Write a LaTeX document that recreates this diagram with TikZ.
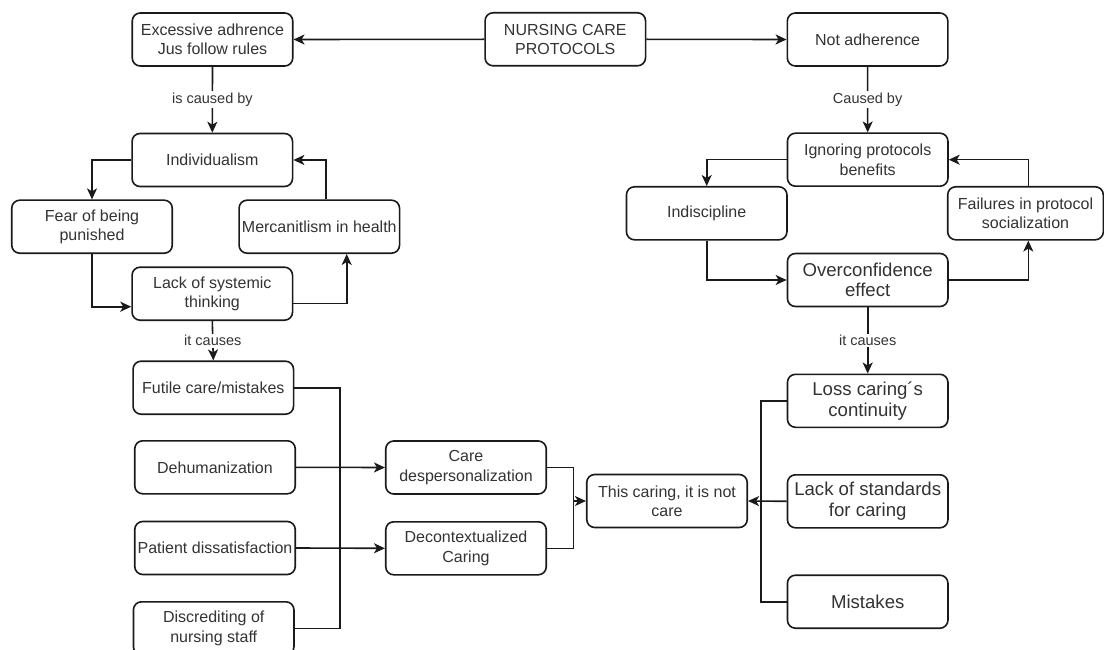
\documentclass[tikz,border=0pt]{standalone}
\usepackage{fontspec}
\setmainfont{Liberation Sans}
\usetikzlibrary{arrows.meta,calc}
\definecolor{linec}{HTML}{1a1a1a}
\definecolor{textc}{HTML}{333333}
\tikzset{
  box/.style={draw=linec, line width=1.6pt, rounded corners=8pt, fill=white, align=center,
    inner sep=1pt, text=textc, minimum width=160.5pt, minimum height=53pt,
    font=\fontsize{16}{19.2}\selectfont},
  bigtxt/.style={font=\fontsize{18.6}{20.6}\selectfont},
  conn/.style={draw=linec, line width=1.6pt},
  arr/.style={conn, -{Stealth[length=11pt,width=10pt,inset=3pt]}},
  elabel/.style={fill=white, text=textc, inner sep=1.5pt, font=\fontsize{14.5}{16}\selectfont}
}
\begin{document}
\begin{tikzpicture}[x=1pt,y=-1pt]
\clip (0,0) rectangle (1104,650);
\fill[white] (0,0) rectangle (1104,650);
% nodes
\node[box] (exc) at (212.5,39.5) {Excessive adhrence\\Jus follow rules};
\node[box] (ncp) at (565.3,39.3) {NURSING CARE\\PROTOCOLS};
\node[box] (nad) at (867.6,39.5) {Not adherence};
\node[box] (ind) at (212.3,160) {Individualism};
\node[box] (fear) at (92,226.7) {Fear of being\\punished};
\node[box] (merc) at (319.3,226.7) {Mercanitlism in health};
\node[box] (lst) at (212.3,293.7) {Lack of systemic\\thinking};
\node[box] (fut) at (213.3,387.7) {Futile care/mistakes};
\node[box] (deh) at (215,467.3) {Dehumanization};
\node[box] (pat) at (215,548) {Patient dissatisfaction};
\node[box] (dis) at (213.7,628.3) {Discrediting of\\nursing staff};
\node[box] (cdp) at (466,467.5) {Care\\despersonalization};
\node[box] (dec) at (466,548.3) {Decontextualized\\Caring};
\node[box] (tc) at (667,501) {This caring, it is not\\care};
\node[box] (ign) at (867.7,159.7) {Ignoring protocols\\benefits};
\node[box] (indi) at (706.7,213.3) {Indiscipline};
\node[box, minimum width=155.6pt] (fail) at (1025.5,213.3) {Failures in protocol\\socialization};
\node[box, bigtxt] (ovc) at (867.7,280) {Overconfidence\\effect};
\node[box, bigtxt] (loss) at (867.7,400.8) {Loss caring´s\\continuity};
\node[box, bigtxt] (lsc) at (867.7,501.3) {Lack of standards\\for caring};
\node[box, bigtxt] (mis) at (867.7,601.7) {Mistakes};
% junction coordinates
\coordinate (jl) at (340,0);
\coordinate (jm) at (573.3,0);
\coordinate (jr) at (760.7,0);
% connectors
\draw[arr] (ncp.west) -- (exc.east);
\draw[arr] (ncp.east) -- (nad.west);
\draw[arr] (exc.south) -- node[elabel] {is caused by} (ind.north);
\draw[arr] (nad.south) -- node[elabel] {Caused by} (ign.north);
\draw[arr] (ind.west) -| (fear.north);
\draw[arr] ([xshift=6.4pt]merc.north) |- (ind.east);
\draw[arr] (fear.south) |- ([yshift=-13pt]lst.west);
\draw[arr] ([yshift=-9.6pt]lst.east) -| ([xshift=27.4pt]merc.south);
\draw[arr] (lst.south) -- node[elabel] {it causes} (fut.north);
\draw[conn] (fut.east) -| (jl |- dis.east) -- (dis.east);
\draw[arr] (deh.east) -- (cdp.west);
\draw[arr] (pat.east) -- (dec.west);
\draw[conn] (cdp.east) -| (jm |- tc.west);
\draw[arr] (dec.east) -| (jm |- tc.west) -- (tc.west);
\draw[conn] (loss.west) -| (jr |- lsc.west);
\draw[conn] (mis.west) -| (jr |- lsc.west);
\draw[arr] (lsc.west) -- (tc.east);
\draw[arr] (ign.west) -| (indi.north);
\draw[arr] (indi.south) |- (ovc.west);
\draw[arr] (ovc.east) -| ([xshift=2.8pt]fail.south);
\draw[arr] ([xshift=2.8pt]fail.north) |- (ign.east);
\draw[arr] (ovc.south) -- node[elabel] {it causes} (loss.north);
\end{tikzpicture}
\end{document}
